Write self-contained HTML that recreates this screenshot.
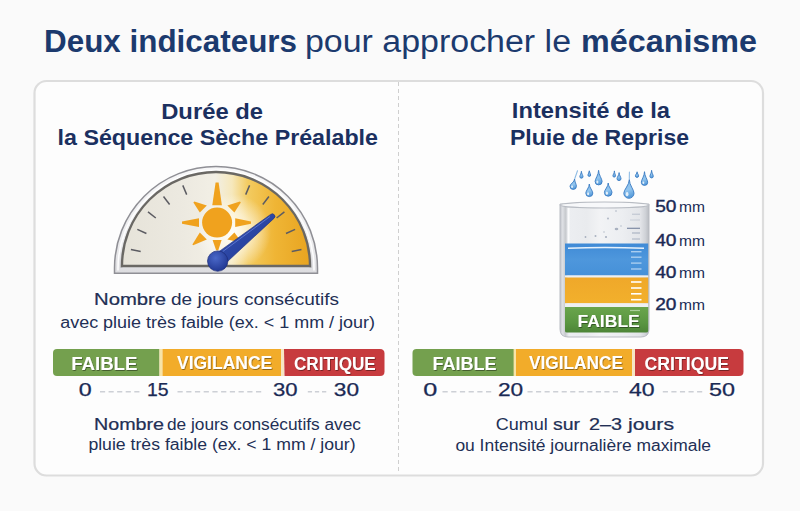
<!DOCTYPE html>
<html><head><meta charset="utf-8">
<style>
html,body{margin:0;padding:0;background:#fafafa;}
svg{display:block;}
text{font-family:"Liberation Sans",sans-serif;}
</style></head>
<body>
<svg width="800" height="511" viewBox="0 0 800 511">
<defs>
  <linearGradient id="face" x1="122" y1="0" x2="310" y2="0" gradientUnits="userSpaceOnUse">
    <stop offset="0.000" stop-color="#e6e3d9"/>
    <stop offset="0.309" stop-color="#ece9e0"/>
    <stop offset="0.495" stop-color="#f2efe5"/>
    <stop offset="0.585" stop-color="#f6e8bc"/>
    <stop offset="0.670" stop-color="#f3cb60"/>
    <stop offset="0.814" stop-color="#efb535"/>
    <stop offset="1.000" stop-color="#e8a420"/>
  </linearGradient>
  <radialGradient id="glow" cx="233" cy="232" r="38" gradientUnits="userSpaceOnUse">
    <stop offset="0" stop-color="#ffffff" stop-opacity="0.92"/>
    <stop offset="0.5" stop-color="#fffdf5" stop-opacity="0.6"/>
    <stop offset="1" stop-color="#ffffff" stop-opacity="0"/>
  </radialGradient>
  <linearGradient id="bezel" x1="0" y1="166" x2="0" y2="274" gradientUnits="userSpaceOnUse">
    <stop offset="0" stop-color="#f7f7f8"/>
    <stop offset="0.7" stop-color="#ececee"/>
    <stop offset="1" stop-color="#dcdcdf"/>
  </linearGradient>
  <linearGradient id="needle" x1="0" y1="0" x2="1" y2="1">
    <stop offset="0" stop-color="#3856b8"/>
    <stop offset="1" stop-color="#1f3690"/>
  </linearGradient>
  <radialGradient id="hub" cx="0.4" cy="0.35" r="0.7">
    <stop offset="0" stop-color="#4a68c8"/>
    <stop offset="1" stop-color="#1f3590"/>
  </radialGradient>
  <linearGradient id="drop" x1="0" y1="0" x2="0.2" y2="1">
    <stop offset="0" stop-color="#82bbe9"/>
    <stop offset="0.6" stop-color="#92c5ee"/>
    <stop offset="1" stop-color="#5a9edc"/>
  </linearGradient>
  <linearGradient id="glass" x1="560" y1="0" x2="649" y2="0" gradientUnits="userSpaceOnUse">
    <stop offset="0" stop-color="#c2c5cb"/>
    <stop offset="0.03" stop-color="#dfe1e5"/>
    <stop offset="0.06" stop-color="#c7cace"/>
    <stop offset="0.1" stop-color="#eceef1"/>
    <stop offset="0.3" stop-color="#e9ebee"/>
    <stop offset="0.45" stop-color="#f2f3f5"/>
    <stop offset="0.7" stop-color="#eceef1"/>
    <stop offset="0.9" stop-color="#e3e5e9"/>
    <stop offset="0.96" stop-color="#cfd2d7"/>
    <stop offset="1" stop-color="#b8bbc1"/>
  </linearGradient>
  <linearGradient id="blue" x1="0" y1="243" x2="0" y2="276" gradientUnits="userSpaceOnUse">
    <stop offset="0" stop-color="#3f8ad6"/>
    <stop offset="0.5" stop-color="#4e97dc"/>
    <stop offset="1" stop-color="#4690d8"/>
  </linearGradient>
  <linearGradient id="orange" x1="0" y1="277" x2="0" y2="303" gradientUnits="userSpaceOnUse">
    <stop offset="0" stop-color="#efa82a"/>
    <stop offset="1" stop-color="#f2b02c"/>
  </linearGradient>
  <linearGradient id="green" x1="0" y1="307" x2="0" y2="333" gradientUnits="userSpaceOnUse">
    <stop offset="0" stop-color="#6aa54c"/>
    <stop offset="0.6" stop-color="#5a9641"/>
    <stop offset="1" stop-color="#4c8436"/>
  </linearGradient>
  <filter id="tsh" x="-10%" y="-30%" width="120%" height="160%">
    <feDropShadow dx="0.7" dy="0.9" stdDeviation="0.6" flood-color="#000" flood-opacity="0.45"/>
  </filter>
</defs>

<!-- panel -->
<rect x="34.5" y="81" width="728.5" height="394.5" rx="12" ry="12" fill="#fdfdfd" stroke="#dddddd" stroke-width="2.2"/>
<line x1="398.5" y1="82" x2="398.5" y2="474" stroke="#cfcfcf" stroke-width="1" stroke-dasharray="4 3"/>



<!-- gauge -->
<g>
  <path d="M114.5,273.3 L114.5,268 A101.5,101.5 0 0 1 317.5,268 L317.5,273.3 Z" fill="url(#bezel)" stroke="#8f8f95" stroke-width="1.5"/>
  <path d="M118,270.5 L118,268 A98,98 0 0 1 314,268 L314,270.5" fill="none" stroke="#ffffff" stroke-width="1.6" opacity="0.9"/>
  <path d="M121.3,268 A94.7,94.7 0 0 1 310.7,268" fill="none" stroke="#c4c4c8" stroke-width="2.2"/>
  <path d="M122,266 A94,94 0 0 1 310,266 Z" fill="url(#face)" stroke="#6a6864" stroke-width="2.3"/>
  <path d="M123.5,265 A92.5,92.5 0 0 1 308.5,265 Z" fill="url(#glow)"/>
  <g stroke="#5c5c62" stroke-width="1.5" stroke-linecap="butt">
    <line x1="140.7" y1="251.4" x2="130.9" y2="249.5"/>
    <line x1="291.7" y1="251.4" x2="301.5" y2="249.5"/>
    <line x1="146.4" y1="233.5" x2="137.3" y2="229.4"/>
    <line x1="286.0" y1="233.5" x2="295.1" y2="229.4"/>
    <line x1="155.8" y1="218.0" x2="148.0" y2="211.8"/>
    <line x1="276.6" y1="218.0" x2="284.4" y2="211.8"/>
    <line x1="169.6" y1="204.5" x2="163.5" y2="196.5"/>
    <line x1="262.8" y1="204.5" x2="268.9" y2="196.5"/>
    <line x1="186.7" y1="194.6" x2="182.8" y2="185.4"/>
    <line x1="245.7" y1="194.6" x2="249.6" y2="185.4"/>
  </g>
  <!-- sun -->
  <g fill="#f0a21e">
    <circle cx="217.1" cy="222.6" r="15"/>
    <polygon points="212.3,205.3 221.9,205.3 218.6,182.4 215.6,182.4"/>
    <polygon points="199,218.2 199,227 182,223.8 182,221.4"/>
    <polygon points="235.2,218.2 235.2,227 251,223.8 251,221.4"/>
    <polygon points="212.6,240.1 221.6,240.1 218.3,250.2 216.1,250.2"/>
    <polygon points="199.8,212.6 206.8,205.6 194.3,201.6 193.4,202.5"/>
    <polygon points="234.4,212.6 227.4,205.6 239.9,201.6 240.8,202.5"/>
    <polygon points="199.8,232.6 206.8,239.6 193.2,245.2 192.4,244.4"/>
    <polygon points="234.4,232.6 227.4,239.6 240.6,242.6 241.2,241.8"/>
  </g>
  <!-- needle -->
  <path d="M213.27,255.68 L270.65,214.39 A2.6,2.6 0 0 1 273.95,218.41 L222.13,266.52 Z" fill="url(#needle)" stroke="#1c2f80" stroke-width="0.6"/>
  <path d="M222.78,251.52 L269.87,216.58" stroke="#6f8ae0" stroke-width="1" opacity="0.7"/>
  <circle cx="217.7" cy="261.1" r="10.2" fill="url(#hub)" stroke="#1c2c78" stroke-width="0.7"/>
</g>

<!-- left scale bar -->
<g>
  <path d="M57,349 H159.5 V376 H57 Q53,376 53,372 V353 Q53,349 57,349 Z" fill="#74a04e"/>
  <rect x="159.5" y="349" width="3" height="27" fill="#f7e4a8"/>
  <rect x="162.5" y="349" width="118.5" height="27" fill="#f2ac2a"/>
  <rect x="281" y="349" width="3" height="27" fill="#f6e6c4"/>
  <path d="M284,349 H380 Q384.5,349 384.5,353.5 V371.5 Q384.5,376 380,376 H284.5 Z" fill="#c73b3e"/>
  <g stroke="#cdd0d6" stroke-width="1.6">
    <line x1="100" y1="391.8" x2="139.9" y2="391.8" stroke-dasharray="5.14 3.43"/>
    <line x1="177.5" y1="391.8" x2="261.75" y2="391.8" stroke-dasharray="5.23 3.49"/>
    <line x1="307.8" y1="391.8" x2="326.75" y2="391.8" stroke-dasharray="4.26 2.84"/>
  </g>
</g>


<!-- drops -->
<g fill="url(#drop)" stroke="#3a7bc2" stroke-width="0.9">
  <path d="M574.6,179.0 C574.6,181.9 576.4,184.0 576.4,186.2 A3.2,3.2 0 0 1 570.0,186.2 C570.0,184.0 574.6,181.9 574.6,179.0 Z"/>
  <path d="M589.3,184.0 C589.3,187.6 592.8,190.7 592.8,193.1 A3.5,3.5 0 0 1 585.8,193.1 C585.8,190.7 589.3,187.6 589.3,184.0 Z"/>
  <path d="M598.6,170.3 C598.6,174.7 602.1,179.0 602.1,181.4 A3.5,3.5 0 0 1 595.1,181.4 C595.1,179.0 598.6,174.7 598.6,170.3 Z"/>
  <path d="M608.2,183.0 C608.2,186.8 612.0,189.7 612.0,192.4 A3.8,3.8 0 0 1 604.4,192.4 C604.4,189.7 608.2,186.8 608.2,183.0 Z"/>
  <path d="M629.3,179.5 C629.3,185.0 634.0,189.6 634.0,193.2 A5.1,5.1 0 0 1 623.8,193.2 C623.8,189.6 629.3,185.0 629.3,179.5 Z"/>
  <path d="M644.5,171.7 C644.5,175.9 647.7,180.0 647.7,182.2 A3.2,3.2 0 0 1 641.3,182.2 C641.3,180.0 644.5,175.9 644.5,171.7 Z"/>
  <path d="M581.4,171.3 C581.4,173.4 583.0,175.5 583.0,176.6 A1.6,1.6 0 0 1 579.8,176.6 C579.8,175.5 581.4,173.4 581.4,171.3 Z"/>
  <path d="M589.3,170.8 C589.3,172.5 590.7,174.0 590.7,175.0 A1.4,1.4 0 0 1 587.9,175.0 C587.9,174.0 589.3,172.5 589.3,170.8 Z"/>
  <path d="M614.4,170.9 C614.4,172.9 615.5,174.9 615.5,175.8 A1.3,1.3 0 0 1 612.9,175.8 C612.9,174.9 614.4,172.9 614.4,170.9 Z"/>
  <path d="M619.1,172.6 C619.1,175.0 621.0,177.2 621.0,178.6 A2.0,2.0 0 0 1 617.0,178.6 C617.0,177.2 619.1,175.0 619.1,172.6 Z"/>
  <path d="M637.1,171.8 C637.1,173.4 638.6,174.7 638.6,175.8 A1.6,1.6 0 0 1 635.4,175.8 C635.4,174.7 637.1,173.4 637.1,171.8 Z"/>
  <path d="M651.6,170.3 C651.6,172.7 653.3,175.0 653.3,176.2 A1.7,1.7 0 0 1 649.9,176.2 C649.9,175.0 651.6,172.7 651.6,170.3 Z"/>
</g>
<g stroke="#6aa6dc" stroke-width="1.1" stroke-linecap="round" opacity="0.75">
  <line x1="577.5" y1="170.8" x2="574.8" y2="178.5"/>
  <line x1="629.4" y1="172" x2="629.3" y2="178.5"/>
</g>
<g fill="#ffffff" opacity="0.8">
  <ellipse cx="572.1" cy="186.8" rx="0.9" ry="1.3"/>
  <ellipse cx="588.1" cy="193.8" rx="1.0" ry="1.5"/>
  <ellipse cx="597.4" cy="182.1" rx="1.0" ry="1.5"/>
  <ellipse cx="606.9" cy="193.2" rx="1.1" ry="1.6"/>
  <ellipse cx="627.1" cy="194.2" rx="1.4" ry="2.1"/>
  <ellipse cx="643.4" cy="182.8" rx="0.9" ry="1.3"/>
</g>

<!-- beaker -->
<g>
  <path d="M560,204 L560,329 Q560,337 568,337 L641,337 Q649,337 649,329 L649,204 Z" fill="url(#glass)" stroke="#b9bcc3" stroke-width="1"/>
  <rect x="567.5" y="208" width="2" height="118" fill="#ffffff" opacity="0.8"/>
  <g stroke="#8f9bb0" stroke-width="1">
    <line x1="627" y1="228.3" x2="640" y2="228.3" stroke="#7d8aa3" stroke-width="1.2"/>
    <line x1="632" y1="214.2" x2="640" y2="214.2" opacity="0.5"/>
    <line x1="632" y1="233" x2="640" y2="233" opacity="0.8"/>
    <line x1="632" y1="239" x2="640" y2="239" opacity="0.7"/>
    <line x1="630" y1="220" x2="640" y2="220" opacity="0.35"/>
  </g>
  <g fill="#8d98ab" opacity="0.7">
    <ellipse cx="616.5" cy="229" rx="1.8" ry="1.2"/>
    <circle cx="608" cy="218.5" r="0.9"/>
    <circle cx="595.5" cy="236" r="1"/>
    <circle cx="606" cy="237" r="1.1"/>
    <circle cx="585.5" cy="237" r="0.9"/>
    <circle cx="616" cy="211" r="0.8"/>
    <circle cx="621" cy="226" r="0.7"/>
    <circle cx="604" cy="232" r="0.7"/>
  </g>
  <ellipse cx="604.5" cy="205" rx="44.5" ry="3" fill="#f7f8fa" stroke="#b8bcc3" stroke-width="1.1"/>
  <rect x="565" y="243.5" width="83.2" height="32" fill="url(#blue)"/>
  <path d="M568,248.2 Q604,246.8 644,248.2" stroke="#e6f1fb" stroke-width="1.4" fill="none"/>
  <rect x="565" y="275.5" width="83.2" height="2" fill="#eef0f2"/>
  <rect x="565" y="277.5" width="83.2" height="25.8" fill="url(#orange)"/>
  <rect x="565" y="303.3" width="83.2" height="3.7" fill="#eef0f2"/>
  <path d="M565,307 H648.2 V331 Q648.2,332.5 646,332.5 H567 Q565,332.5 565,331 Z" fill="url(#green)"/>
  <g stroke="#ffffff" stroke-width="1.6">
    <line x1="631" y1="282" x2="641.5" y2="282"/>
    <line x1="631" y1="288" x2="641.5" y2="288"/>
    <line x1="631" y1="293.8" x2="641.5" y2="293.8"/>
    <line x1="631" y1="299.7" x2="641.5" y2="299.7"/>
  </g>
  <g stroke="#a9cdef" stroke-width="1.4">
    <line x1="631" y1="251.7" x2="641.5" y2="251.7"/>
    <line x1="631" y1="257.2" x2="641.5" y2="257.2"/>
    <line x1="631" y1="263.1" x2="641.5" y2="263.1"/>
    <line x1="631" y1="269" x2="641.5" y2="269"/>
  </g>
  <line x1="630" y1="310.5" x2="640" y2="310.5" stroke="#a9cf98" stroke-width="1.2"/>
</g>


<!-- right scale bar -->
<g>
  <path d="M416.5,349 H514 V376 H416.5 Q412.5,376 412.5,372 V353 Q412.5,349 416.5,349 Z" fill="#74a04e"/>
  <rect x="513.6" y="349" width="2.4" height="27" fill="#f7e4a8"/>
  <rect x="516" y="349" width="116.2" height="27" fill="#f2ac2a"/>
  <rect x="632.2" y="349" width="2.9" height="27" fill="#f6e6c4"/>
  <path d="M635,349 H739 Q743.5,349 743.5,353.5 V371.5 Q743.5,376 739,376 H635 Z" fill="#c73b3e"/>
  <g stroke="#cdd0d6" stroke-width="1.6">
    <line x1="442.5" y1="391.8" x2="491.75" y2="391.8" stroke-dasharray="5.22 3.48"/>
    <line x1="527.5" y1="391.8" x2="618.5" y2="391.8" stroke-dasharray="5.12 3.42"/>
    <line x1="662.8" y1="391.8" x2="702.7" y2="391.8" stroke-dasharray="5.14 3.43"/>
  </g>
</g>

<!-- TEXT START -->
<text id="t0" x="44.00" y="52" font-size="31" fill="#1c3a6e" font-weight="bold" textLength="253.01" lengthAdjust="spacingAndGlyphs" >Deux indicateurs</text>
<text id="t1" x="305.00" y="52" font-size="31" fill="#1c3a6e" textLength="266.01" lengthAdjust="spacingAndGlyphs" >pour approcher le</text>
<text id="t2" x="581.00" y="52" font-size="31" fill="#1c3a6e" font-weight="bold" textLength="176.04" lengthAdjust="spacingAndGlyphs" >mécanisme</text>
<text id="t3" x="161.20" y="118.5" font-size="22" fill="#1b3060" font-weight="bold" textLength="101.82" lengthAdjust="spacingAndGlyphs" >Durée de</text>
<text id="t4" x="57.60" y="144.8" font-size="22" fill="#1b3060" font-weight="bold" textLength="320.41" lengthAdjust="spacingAndGlyphs" >la Séquence Sèche Préalable</text>
<text id="t5" x="511.80" y="118.4" font-size="22" fill="#1b3060" font-weight="bold" textLength="158.20" lengthAdjust="spacingAndGlyphs" >Intensité de la</text>
<text id="t6" x="510.00" y="144.5" font-size="22" fill="#1b3060" font-weight="bold" textLength="179.01" lengthAdjust="spacingAndGlyphs" >Pluie de Reprise</text>
<text id="t7" x="94.00" y="304.5" font-size="16" fill="#222f55" stroke="#222f55" stroke-width="0.22" textLength="72.08" lengthAdjust="spacingAndGlyphs" >Nombre</text>
<text id="t8" x="171.00" y="304.5" font-size="16" fill="#222f55" textLength="167.99" lengthAdjust="spacingAndGlyphs" >de jours consécutifs</text>
<text id="t9" x="60.20" y="327.5" font-size="16" fill="#222f55" textLength="314.80" lengthAdjust="spacingAndGlyphs" >avec pluie très faible (ex. &lt; 1 mm / jour)</text>
<text id="t10" x="94.00" y="429.5" font-size="16" fill="#222f55" stroke="#222f55" stroke-width="0.22" textLength="70.06" lengthAdjust="spacingAndGlyphs" >Nombre</text>
<text id="t11" x="167.00" y="429.5" font-size="16" fill="#222f55" textLength="194.00" lengthAdjust="spacingAndGlyphs" >de jours consécutifs avec</text>
<text id="t12" x="88.40" y="450" font-size="16" fill="#222f55" textLength="267.20" lengthAdjust="spacingAndGlyphs" >pluie très faible (ex. &lt; 1 mm / jour)</text>
<text id="t13" x="495.80" y="430" font-size="16" fill="#222f55" textLength="52.04" lengthAdjust="spacingAndGlyphs" >Cumul</text>
<text id="t14" x="553.00" y="430" font-size="16" fill="#222f55" stroke="#222f55" stroke-width="0.22" textLength="27.03" lengthAdjust="spacingAndGlyphs" >sur</text>
<text id="t15" x="589.00" y="430" font-size="16" fill="#222f55" stroke="#222f55" stroke-width="0.22" textLength="33.02" lengthAdjust="spacingAndGlyphs" >2–3</text>
<text id="t16" x="628.00" y="430" font-size="16" fill="#222f55" stroke="#222f55" stroke-width="0.22" textLength="46.06" lengthAdjust="spacingAndGlyphs" >jours</text>
<text id="t17" x="455.40" y="451" font-size="16" fill="#222f55" textLength="255.60" lengthAdjust="spacingAndGlyphs" >ou Intensité journalière maximale</text>
<text id="t18" x="71.20" y="369.7" font-size="17.5" fill="#ffffff" font-weight="bold" textLength="66.24" lengthAdjust="spacingAndGlyphs" filter="url(#tsh)">FAIBLE</text>
<text id="t19" x="177.00" y="369" font-size="17.5" fill="#ffffff" font-weight="bold" textLength="95.21" lengthAdjust="spacingAndGlyphs" filter="url(#tsh)">VIGILANCE</text>
<text id="t20" x="294.00" y="369.7" font-size="17.5" fill="#ffffff" font-weight="bold" textLength="81.80" lengthAdjust="spacingAndGlyphs" filter="url(#tsh)">CRITIQUE</text>
<text id="t21" x="432.60" y="369.7" font-size="17.5" fill="#ffffff" font-weight="bold" textLength="64.03" lengthAdjust="spacingAndGlyphs" filter="url(#tsh)">FAIBLE</text>
<text id="t22" x="529.00" y="369" font-size="17.5" fill="#ffffff" font-weight="bold" textLength="94.01" lengthAdjust="spacingAndGlyphs" filter="url(#tsh)">VIGILANCE</text>
<text id="t23" x="644.60" y="369.7" font-size="17.5" fill="#ffffff" font-weight="bold" textLength="84.42" lengthAdjust="spacingAndGlyphs" filter="url(#tsh)">CRITIQUE</text>
<text id="t24" x="577.40" y="326.7" font-size="17" fill="#ffffff" font-weight="bold" textLength="62.44" lengthAdjust="spacingAndGlyphs" filter="url(#tsh)">FAIBLE</text>
<text id="t25" x="78.80" y="396.3" font-size="17.5" fill="#1a2a55" stroke="#1a2a55" stroke-width="0.25" textLength="12.95" lengthAdjust="spacingAndGlyphs" >0</text>
<text id="t26" x="147.00" y="396.3" font-size="17.5" fill="#1a2a55" stroke="#1a2a55" stroke-width="0.25" textLength="21.61" lengthAdjust="spacingAndGlyphs" >15</text>
<text id="t27" x="273.00" y="396.3" font-size="17.5" fill="#1a2a55" stroke="#1a2a55" stroke-width="0.25" textLength="24.61" lengthAdjust="spacingAndGlyphs" >30</text>
<text id="t28" x="333.80" y="396.3" font-size="17.5" fill="#1a2a55" stroke="#1a2a55" stroke-width="0.25" textLength="25.23" lengthAdjust="spacingAndGlyphs" >30</text>
<text id="t29" x="423.20" y="396.3" font-size="17.5" fill="#1a2a55" stroke="#1a2a55" stroke-width="0.25" textLength="14.02" lengthAdjust="spacingAndGlyphs" >0</text>
<text id="t30" x="498.00" y="396.3" font-size="17.5" fill="#1a2a55" stroke="#1a2a55" stroke-width="0.25" textLength="25.23" lengthAdjust="spacingAndGlyphs" >20</text>
<text id="t31" x="629.00" y="396.3" font-size="17.5" fill="#1a2a55" stroke="#1a2a55" stroke-width="0.25" textLength="25.64" lengthAdjust="spacingAndGlyphs" >40</text>
<text id="t32" x="709.00" y="396.3" font-size="17.5" fill="#1a2a55" stroke="#1a2a55" stroke-width="0.25" textLength="26.00" lengthAdjust="spacingAndGlyphs" >50</text>
<text id="t33" x="655.20" y="211.7" font-size="16.5" fill="#1a2a55" stroke="#1a2a55" stroke-width="0.4" textLength="21.22" lengthAdjust="spacingAndGlyphs" >50</text>
<text id="t34" x="679.00" y="211.7" font-size="14.5" fill="#1a2a55" textLength="26.00" lengthAdjust="spacingAndGlyphs" >mm</text>
<text id="t35" x="655.20" y="245.5" font-size="16.5" fill="#1a2a55" stroke="#1a2a55" stroke-width="0.4" textLength="21.27" lengthAdjust="spacingAndGlyphs" >40</text>
<text id="t36" x="679.00" y="245.5" font-size="14.5" fill="#1a2a55" textLength="26.00" lengthAdjust="spacingAndGlyphs" >mm</text>
<text id="t37" x="655.20" y="277.9" font-size="16.5" fill="#1a2a55" stroke="#1a2a55" stroke-width="0.4" textLength="21.27" lengthAdjust="spacingAndGlyphs" >40</text>
<text id="t38" x="679.00" y="277.9" font-size="14.5" fill="#1a2a55" textLength="26.00" lengthAdjust="spacingAndGlyphs" >mm</text>
<text id="t39" x="655.20" y="310.3" font-size="16.5" fill="#1a2a55" stroke="#1a2a55" stroke-width="0.4" textLength="21.22" lengthAdjust="spacingAndGlyphs" >20</text>
<text id="t40" x="679.00" y="310.3" font-size="14.5" fill="#1a2a55" textLength="26.00" lengthAdjust="spacingAndGlyphs" >mm</text>
<!-- TEXT END -->
</svg>
</body></html>
